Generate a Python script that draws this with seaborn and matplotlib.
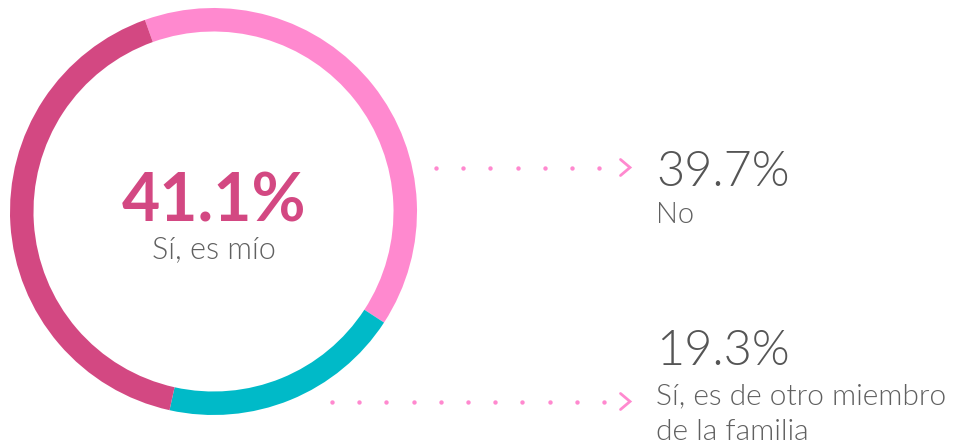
import matplotlib
matplotlib.use("Agg")
import matplotlib.pyplot as plt
import seaborn as sns
import numpy as np

# Data
labels = ["No", "Sí, es de otro miembro", "de la familia", "Sí, es mío"]
shares = [39.7, 19.3, 41.1]
colors = ["#FF89CF", "#00BAC8", "#D34882"]

sns.set_theme(style="white")
plt.rcParams["font.family"] = ["Lato", "DejaVu Sans"]

W, H = 963, 447
fig = plt.figure(figsize=(W / 100, H / 100), dpi=100)
ax = fig.add_axes([0, 0, 1, 1])

# donut, drawn clockwise starting a little left of 12 o'clock
cx, cy, r = 213.5, H - 211.5, 203.5
ax.pie(shares, colors=colors, startangle=109.7, counterclock=False,
       center=(cx, cy), radius=r,
       wedgeprops=dict(width=23.5, linewidth=0))

ax.set_xlim(0, W)
ax.set_ylim(0, H)
ax.set_aspect("equal")
ax.axis("off")

grey = "#555555"
sub_grey = "#606060"
thin = 300  # Lato Light

# big value in the middle
ax.text(cx, H - 221.7, f"{shares[2]:.1f}%", ha="center", va="baseline",
        fontsize=47.5, fontweight="bold", color=colors[2])
ax.text(cx, H - 258.3, labels[3], ha="center", va="baseline",
        fontsize=22, color=sub_grey, fontweight=thin)


def leader(x0, x1, y):
    # dotted pink line ending with a small chevron
    xs = np.arange(x0, x1, 27.2)
    ax.scatter(xs, np.full(len(xs), H - y), s=10, color=colors[0], linewidths=0)
    ax.plot([620.5, 630, 620.5], [H - y + 8, H - y, H - y - 8],
            color=colors[0], lw=2, solid_capstyle="round", solid_joinstyle="miter")


leader(436, 605, 167.5)
leader(332, 605, 401.5)

tx = 656
ax.text(tx, H - 186.5, f"{shares[0]:.1f}%", ha="left", va="baseline",
        fontsize=35, color=grey, fontweight=thin)
ax.text(tx, H - 223.3, labels[0], ha="left", va="baseline",
        fontsize=21, color=sub_grey, fontweight=thin)

ax.text(tx, H - 365, f"{shares[1]:.1f}%", ha="left", va="baseline",
        fontsize=35, color=grey, fontweight=thin)
ax.text(tx, H - 404, labels[1], ha="left", va="baseline",
        fontsize=21.5, color=sub_grey, fontweight=thin)
ax.text(tx, H - 440, labels[2], ha="left", va="baseline",
        fontsize=21.5, color=sub_grey, fontweight=thin)

fig.savefig("out.png", dpi=100)
